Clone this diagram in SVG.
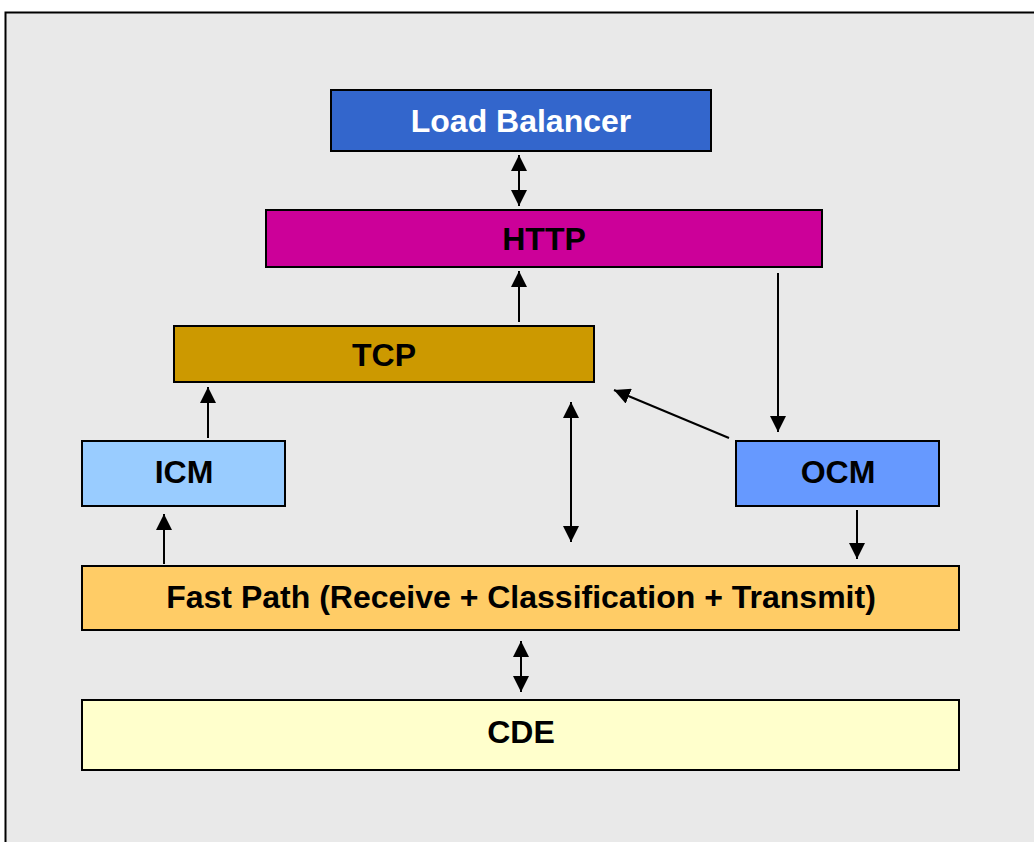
<svg xmlns="http://www.w3.org/2000/svg" width="1034" height="842" viewBox="0 0 1034 842">
<defs>
<style>
.box{stroke:#000;stroke-width:2}
.lbl{font-family:"Liberation Sans",Arial,sans-serif;font-weight:bold;font-size:32px;text-anchor:middle;dominant-baseline:central;fill:#000}
.ln{stroke:#000;stroke-width:2;fill:none}
</style>
<marker id="a" viewBox="0 0 16 16" refX="16" refY="8" markerWidth="16" markerHeight="16" markerUnits="userSpaceOnUse" orient="auto-start-reverse">
<path d="M0,0 L16,8 L0,16 z" fill="#000"/>
</marker>
</defs>
<rect x="0" y="0" width="1034" height="842" fill="#fff"/>
<rect x="5.5" y="12.5" width="1040" height="840" fill="#E9E9E9" stroke="#000" stroke-width="2"/>
<g id="load-balancer"><rect class="box" x="331" y="90" width="380" height="61" fill="#3366CC"/><text class="lbl" x="521" y="121" style="fill:#fff">Load Balancer</text></g>
<g id="http"><rect class="box" x="266" y="210" width="556" height="57" fill="#CC0099"/><text class="lbl" x="544" y="239">HTTP</text></g>
<g id="tcp"><rect class="box" x="174" y="326" width="420" height="56" fill="#CC9900"/><text class="lbl" x="384" y="355">TCP</text></g>
<g id="icm"><rect class="box" x="82" y="441" width="203" height="65" fill="#99CCFF"/><text class="lbl" x="184" y="472">ICM</text></g>
<g id="ocm"><rect class="box" x="736" y="441" width="203" height="65" fill="#6699FF"/><text class="lbl" x="838" y="472">OCM</text></g>
<g id="fast-path"><rect class="box" x="82" y="566" width="877" height="64" fill="#FFCC66"/><text class="lbl" x="521" y="597">Fast Path (Receive + Classification + Transmit)</text></g>
<g id="cde"><rect class="box" x="82" y="700" width="877" height="70" fill="#FFFFCC"/><text class="lbl" x="521" y="732">CDE</text></g>
<g id="connectors">
<line class="ln" x1="519" y1="155" x2="519" y2="206" marker-start="url(#a)" marker-end="url(#a)"/>
<line class="ln" x1="519" y1="322" x2="519" y2="271" marker-end="url(#a)"/>
<line class="ln" x1="208" y1="438" x2="208" y2="387" marker-end="url(#a)"/>
<line class="ln" x1="164" y1="564" x2="164" y2="514" marker-end="url(#a)"/>
<line class="ln" x1="571" y1="402" x2="571" y2="542" marker-start="url(#a)" marker-end="url(#a)"/>
<line class="ln" x1="729" y1="438" x2="614" y2="390" marker-end="url(#a)"/>
<line class="ln" x1="778" y1="273" x2="778" y2="432" marker-end="url(#a)"/>
<line class="ln" x1="857" y1="510" x2="857" y2="559" marker-end="url(#a)"/>
<line class="ln" x1="521" y1="641" x2="521" y2="692" marker-start="url(#a)" marker-end="url(#a)"/>
</g>
</svg>
